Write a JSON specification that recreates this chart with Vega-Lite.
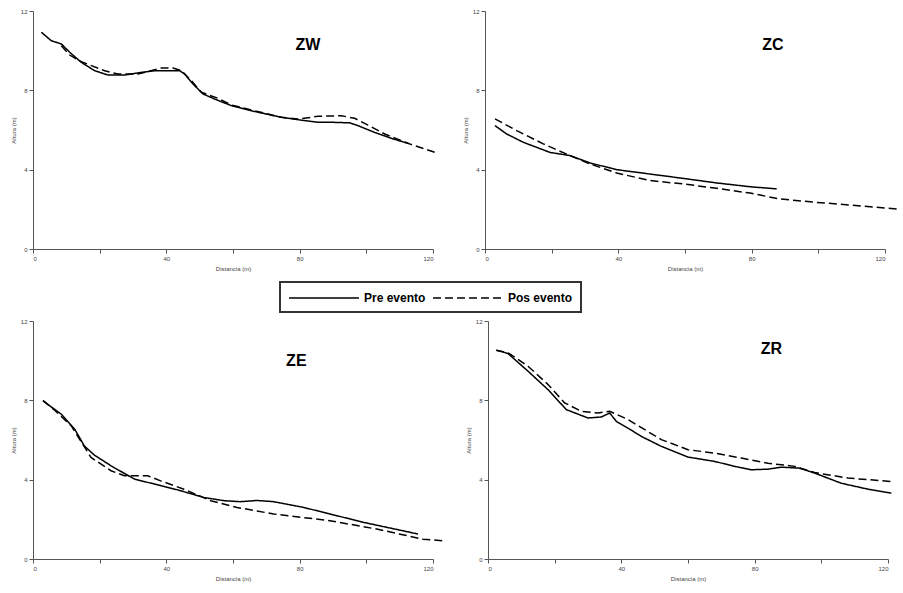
{
  "$schema": "https://vega.github.io/schema/vega-lite/v6.json",
  "background": "white",
  "padding": {"left": 10, "top": 8, "right": 5, "bottom": 5},
  "datasets": {
    "perfiles": [
      {"zona":"ZW","serie":"Pre evento","distancia":2.5,"altura":10.93},
      {"zona":"ZW","serie":"Pre evento","distancia":5.5,"altura":10.5},
      {"zona":"ZW","serie":"Pre evento","distancia":8.5,"altura":10.34},
      {"zona":"ZW","serie":"Pre evento","distancia":11,"altura":9.92},
      {"zona":"ZW","serie":"Pre evento","distancia":14.5,"altura":9.41},
      {"zona":"ZW","serie":"Pre evento","distancia":18.5,"altura":8.99},
      {"zona":"ZW","serie":"Pre evento","distancia":22.5,"altura":8.77},
      {"zona":"ZW","serie":"Pre evento","distancia":27.5,"altura":8.77},
      {"zona":"ZW","serie":"Pre evento","distancia":31.5,"altura":8.88},
      {"zona":"ZW","serie":"Pre evento","distancia":36.5,"altura":8.99},
      {"zona":"ZW","serie":"Pre evento","distancia":39.5,"altura":8.99},
      {"zona":"ZW","serie":"Pre evento","distancia":44,"altura":8.99},
      {"zona":"ZW","serie":"Pre evento","distancia":45.5,"altura":8.82},
      {"zona":"ZW","serie":"Pre evento","distancia":48,"altura":8.32},
      {"zona":"ZW","serie":"Pre evento","distancia":51,"altura":7.82},
      {"zona":"ZW","serie":"Pre evento","distancia":54.5,"altura":7.56},
      {"zona":"ZW","serie":"Pre evento","distancia":59.5,"altura":7.23},
      {"zona":"ZW","serie":"Pre evento","distancia":65.5,"altura":6.97},
      {"zona":"ZW","serie":"Pre evento","distancia":74.5,"altura":6.64},
      {"zona":"ZW","serie":"Pre evento","distancia":79.5,"altura":6.52},
      {"zona":"ZW","serie":"Pre evento","distancia":85.5,"altura":6.39},
      {"zona":"ZW","serie":"Pre evento","distancia":89.5,"altura":6.39},
      {"zona":"ZW","serie":"Pre evento","distancia":95,"altura":6.36},
      {"zona":"ZW","serie":"Pre evento","distancia":97.5,"altura":6.22},
      {"zona":"ZW","serie":"Pre evento","distancia":102.5,"altura":5.88},
      {"zona":"ZW","serie":"Pre evento","distancia":107.5,"altura":5.58},
      {"zona":"ZW","serie":"Pre evento","distancia":113,"altura":5.3},
      {"zona":"ZW","serie":"Pos evento","distancia":8.5,"altura":10.25},
      {"zona":"ZW","serie":"Pos evento","distancia":11,"altura":9.78},
      {"zona":"ZW","serie":"Pos evento","distancia":14.5,"altura":9.44},
      {"zona":"ZW","serie":"Pos evento","distancia":21.5,"altura":8.99},
      {"zona":"ZW","serie":"Pos evento","distancia":25.5,"altura":8.82},
      {"zona":"ZW","serie":"Pos evento","distancia":31.5,"altura":8.82},
      {"zona":"ZW","serie":"Pos evento","distancia":38.5,"altura":9.13},
      {"zona":"ZW","serie":"Pos evento","distancia":42,"altura":9.13},
      {"zona":"ZW","serie":"Pos evento","distancia":44.5,"altura":8.99},
      {"zona":"ZW","serie":"Pos evento","distancia":47.5,"altura":8.49},
      {"zona":"ZW","serie":"Pos evento","distancia":50.5,"altura":7.9},
      {"zona":"ZW","serie":"Pos evento","distancia":55.5,"altura":7.6},
      {"zona":"ZW","serie":"Pos evento","distancia":59.5,"altura":7.26},
      {"zona":"ZW","serie":"Pos evento","distancia":74.5,"altura":6.64},
      {"zona":"ZW","serie":"Pos evento","distancia":79.5,"altura":6.55},
      {"zona":"ZW","serie":"Pos evento","distancia":85.5,"altura":6.69},
      {"zona":"ZW","serie":"Pos evento","distancia":92.5,"altura":6.72},
      {"zona":"ZW","serie":"Pos evento","distancia":96.5,"altura":6.59},
      {"zona":"ZW","serie":"Pos evento","distancia":100.5,"altura":6.25},
      {"zona":"ZW","serie":"Pos evento","distancia":105.5,"altura":5.8},
      {"zona":"ZW","serie":"Pos evento","distancia":113,"altura":5.3},
      {"zona":"ZW","serie":"Pos evento","distancia":120.5,"altura":4.88},
      {"zona":"ZC","serie":"Pre evento","distancia":3,"altura":6.22},
      {"zona":"ZC","serie":"Pre evento","distancia":6.5,"altura":5.8},
      {"zona":"ZC","serie":"Pre evento","distancia":11.5,"altura":5.38},
      {"zona":"ZC","serie":"Pre evento","distancia":19.5,"altura":4.87},
      {"zona":"ZC","serie":"Pre evento","distancia":25.5,"altura":4.71},
      {"zona":"ZC","serie":"Pre evento","distancia":31.5,"altura":4.34},
      {"zona":"ZC","serie":"Pre evento","distancia":39.5,"altura":4.0},
      {"zona":"ZC","serie":"Pre evento","distancia":49.5,"altura":3.78},
      {"zona":"ZC","serie":"Pre evento","distancia":59.5,"altura":3.56},
      {"zona":"ZC","serie":"Pre evento","distancia":69.5,"altura":3.33},
      {"zona":"ZC","serie":"Pre evento","distancia":79.5,"altura":3.14},
      {"zona":"ZC","serie":"Pre evento","distancia":87.5,"altura":3.03},
      {"zona":"ZC","serie":"Pos evento","distancia":3,"altura":6.56},
      {"zona":"ZC","serie":"Pos evento","distancia":9.5,"altura":5.97},
      {"zona":"ZC","serie":"Pos evento","distancia":17.5,"altura":5.3},
      {"zona":"ZC","serie":"Pos evento","distancia":25.5,"altura":4.71},
      {"zona":"ZC","serie":"Pos evento","distancia":31.5,"altura":4.29},
      {"zona":"ZC","serie":"Pos evento","distancia":39.5,"altura":3.83},
      {"zona":"ZC","serie":"Pos evento","distancia":49.5,"altura":3.45},
      {"zona":"ZC","serie":"Pos evento","distancia":59.5,"altura":3.28},
      {"zona":"ZC","serie":"Pos evento","distancia":69.5,"altura":3.06},
      {"zona":"ZC","serie":"Pos evento","distancia":79.5,"altura":2.82},
      {"zona":"ZC","serie":"Pos evento","distancia":88.5,"altura":2.52},
      {"zona":"ZC","serie":"Pos evento","distancia":99.5,"altura":2.35},
      {"zona":"ZC","serie":"Pos evento","distancia":109.5,"altura":2.22},
      {"zona":"ZC","serie":"Pos evento","distancia":123.5,"altura":2.02},
      {"zona":"ZE","serie":"Pre evento","distancia":3,"altura":7.97},
      {"zona":"ZE","serie":"Pre evento","distancia":8.5,"altura":7.3},
      {"zona":"ZE","serie":"Pre evento","distancia":12.5,"altura":6.55},
      {"zona":"ZE","serie":"Pre evento","distancia":15.4,"altura":5.7},
      {"zona":"ZE","serie":"Pre evento","distancia":18.4,"altura":5.24},
      {"zona":"ZE","serie":"Pre evento","distancia":23.4,"altura":4.7},
      {"zona":"ZE","serie":"Pre evento","distancia":30.4,"altura":4.03},
      {"zona":"ZE","serie":"Pre evento","distancia":36.4,"altura":3.78},
      {"zona":"ZE","serie":"Pre evento","distancia":43.3,"altura":3.49},
      {"zona":"ZE","serie":"Pre evento","distancia":51.3,"altura":3.1},
      {"zona":"ZE","serie":"Pre evento","distancia":57.3,"altura":2.94},
      {"zona":"ZE","serie":"Pre evento","distancia":62.2,"altura":2.89},
      {"zona":"ZE","serie":"Pre evento","distancia":67.2,"altura":2.95},
      {"zona":"ZE","serie":"Pre evento","distancia":72.2,"altura":2.89},
      {"zona":"ZE","serie":"Pre evento","distancia":81.2,"altura":2.6},
      {"zona":"ZE","serie":"Pre evento","distancia":89.1,"altura":2.27},
      {"zona":"ZE","serie":"Pre evento","distancia":99.1,"altura":1.85},
      {"zona":"ZE","serie":"Pre evento","distancia":115.5,"altura":1.26},
      {"zona":"ZE","serie":"Pos evento","distancia":3,"altura":8.0},
      {"zona":"ZE","serie":"Pos evento","distancia":6.5,"altura":7.5},
      {"zona":"ZE","serie":"Pos evento","distancia":11.5,"altura":6.71},
      {"zona":"ZE","serie":"Pos evento","distancia":17.4,"altura":5.12},
      {"zona":"ZE","serie":"Pos evento","distancia":23.4,"altura":4.45},
      {"zona":"ZE","serie":"Pos evento","distancia":27.4,"altura":4.2},
      {"zona":"ZE","serie":"Pos evento","distancia":34.4,"altura":4.2},
      {"zona":"ZE","serie":"Pos evento","distancia":38.3,"altura":3.94},
      {"zona":"ZE","serie":"Pos evento","distancia":45.3,"altura":3.52},
      {"zona":"ZE","serie":"Pos evento","distancia":53.3,"altura":2.94},
      {"zona":"ZE","serie":"Pos evento","distancia":61.2,"altura":2.6},
      {"zona":"ZE","serie":"Pos evento","distancia":72.2,"altura":2.27},
      {"zona":"ZE","serie":"Pos evento","distancia":89.1,"altura":1.93},
      {"zona":"ZE","serie":"Pos evento","distancia":103.1,"altura":1.51},
      {"zona":"ZE","serie":"Pos evento","distancia":117,"altura":1.0},
      {"zona":"ZE","serie":"Pos evento","distancia":123,"altura":0.92},
      {"zona":"ZR","serie":"Pre evento","distancia":2.5,"altura":10.53},
      {"zona":"ZR","serie":"Pre evento","distancia":6,"altura":10.36},
      {"zona":"ZR","serie":"Pre evento","distancia":12,"altura":9.47},
      {"zona":"ZR","serie":"Pre evento","distancia":18,"altura":8.54},
      {"zona":"ZR","serie":"Pre evento","distancia":23.5,"altura":7.53},
      {"zona":"ZR","serie":"Pre evento","distancia":30,"altura":7.11},
      {"zona":"ZR","serie":"Pre evento","distancia":34,"altura":7.16},
      {"zona":"ZR","serie":"Pre evento","distancia":36.5,"altura":7.36},
      {"zona":"ZR","serie":"Pre evento","distancia":38.5,"altura":6.94},
      {"zona":"ZR","serie":"Pre evento","distancia":42,"altura":6.6},
      {"zona":"ZR","serie":"Pre evento","distancia":46,"altura":6.18},
      {"zona":"ZR","serie":"Pre evento","distancia":52,"altura":5.68},
      {"zona":"ZR","serie":"Pre evento","distancia":60,"altura":5.14},
      {"zona":"ZR","serie":"Pre evento","distancia":68,"altura":4.92},
      {"zona":"ZR","serie":"Pre evento","distancia":74,"altura":4.67},
      {"zona":"ZR","serie":"Pre evento","distancia":79,"altura":4.5},
      {"zona":"ZR","serie":"Pre evento","distancia":84,"altura":4.53},
      {"zona":"ZR","serie":"Pre evento","distancia":88,"altura":4.63},
      {"zona":"ZR","serie":"Pre evento","distancia":93.5,"altura":4.58},
      {"zona":"ZR","serie":"Pre evento","distancia":98,"altura":4.33},
      {"zona":"ZR","serie":"Pre evento","distancia":106,"altura":3.82},
      {"zona":"ZR","serie":"Pre evento","distancia":114,"altura":3.52},
      {"zona":"ZR","serie":"Pre evento","distancia":121,"altura":3.32},
      {"zona":"ZR","serie":"Pos evento","distancia":2.5,"altura":10.53},
      {"zona":"ZR","serie":"Pos evento","distancia":6,"altura":10.4},
      {"zona":"ZR","serie":"Pos evento","distancia":12,"altura":9.72},
      {"zona":"ZR","serie":"Pos evento","distancia":18,"altura":8.8},
      {"zona":"ZR","serie":"Pos evento","distancia":23,"altura":7.87},
      {"zona":"ZR","serie":"Pos evento","distancia":28,"altura":7.45},
      {"zona":"ZR","serie":"Pos evento","distancia":33,"altura":7.36},
      {"zona":"ZR","serie":"Pos evento","distancia":36.5,"altura":7.45},
      {"zona":"ZR","serie":"Pos evento","distancia":42,"altura":7.03},
      {"zona":"ZR","serie":"Pos evento","distancia":52,"altura":6.02},
      {"zona":"ZR","serie":"Pos evento","distancia":60,"altura":5.51},
      {"zona":"ZR","serie":"Pos evento","distancia":68,"altura":5.34},
      {"zona":"ZR","serie":"Pos evento","distancia":76,"altura":5.09},
      {"zona":"ZR","serie":"Pos evento","distancia":84,"altura":4.83},
      {"zona":"ZR","serie":"Pos evento","distancia":92,"altura":4.67},
      {"zona":"ZR","serie":"Pos evento","distancia":98,"altura":4.36},
      {"zona":"ZR","serie":"Pos evento","distancia":108,"altura":4.08},
      {"zona":"ZR","serie":"Pos evento","distancia":121,"altura":3.91}
    ]
  },
  "config": {
    "view": {"stroke": null},
    "font": "Liberation Sans",
    "axis": {
      "grid": false,
      "domainColor": "#555",
      "tickColor": "#555",
      "labelColor": "#444",
      "labelFontSize": 6,
      "titleFontSize": 6,
      "titleFontWeight": "normal",
      "titleColor": "#444",
      "tickSize": 4,
      "labelPadding": 2,
      "titlePadding": 4
    },
    "legend": {
      "orient": "none",
      "legendX": 247,
      "legendY": 271,
      "direction": "horizontal",
      "strokeColor": "#333",
      "strokeWidth": 2,
      "padding": 8,
      "symbolType": "M-1,0H9",
      "symbolSize": 196,
      "symbolStrokeColor": "black",
      "symbolStrokeWidth": 1.5,
      "labelFontSize": 12,
      "labelFontWeight": "bold",
      "labelColor": "black",
      "columnPadding": 4,
      "labelOffset": 60
    }
  },
  "data": {"name": "perfiles"},
  "spacing": 47,
  "vconcat": [
    {
      "spacing": 24,
      "hconcat": [
        {
          "width": 400, "height": 238,
          "layer": [
            {
              "transform": [{"filter": "datum.zona == 'ZW'"}],
              "mark": {"type": "line", "color": "black", "strokeWidth": 1.5, "clip": false},
              "encoding": {
                "x": {"field": "distancia", "type": "quantitative", "scale": {"domain": [0, 120], "nice": false}, "axis": {"title": "Distancia (m)", "values": [0,20,40,60,80,100,120], "labelExpr": "datum.value % 40 == 0 ? datum.label : ''"}},
                "y": {"field": "altura", "type": "quantitative", "scale": {"domain": [0, 12], "nice": false}, "axis": {"title": "Altura (m)", "values": [0,2,4,6,8,10,12], "labelExpr": "datum.value % 4 == 0 ? datum.label : ''"}},
                "strokeDash": {"field": "serie", "type": "nominal", "scale": {"domain": ["Pre evento", "Pos evento"], "range": [[1, 0], [8, 4]]}, "legend": {"title": null}}
              }
            },
            {
              "data": {"values": [{"zona": "ZW"}]},
              "mark": {"type": "text", "fontSize": 16, "fontWeight": "bold", "color": "black"},
              "encoding": {"x": {"datum": 82.5}, "y": {"datum": 10.3}, "text": {"field": "zona"}}
            }
          ]
        },
        {
          "width": 400, "height": 238,
          "layer": [
            {
              "transform": [{"filter": "datum.zona == 'ZC'"}],
              "mark": {"type": "line", "color": "black", "strokeWidth": 1.5, "clip": false},
              "encoding": {
                "x": {"field": "distancia", "type": "quantitative", "scale": {"domain": [0, 120], "nice": false}, "axis": {"title": "Distancia (m)", "values": [0,20,40,60,80,100,120], "labelExpr": "datum.value % 40 == 0 ? datum.label : ''"}},
                "y": {"field": "altura", "type": "quantitative", "scale": {"domain": [0, 12], "nice": false}, "axis": {"title": "Altura (m)", "values": [0,2,4,6,8,10,12], "labelExpr": "datum.value % 4 == 0 ? datum.label : ''"}},
                "strokeDash": {"field": "serie", "type": "nominal", "scale": {"domain": ["Pre evento", "Pos evento"], "range": [[1, 0], [8, 4]]}, "legend": {"title": null}}
              }
            },
            {
              "data": {"values": [{"zona": "ZC"}]},
              "mark": {"type": "text", "fontSize": 16, "fontWeight": "bold", "color": "black"},
              "encoding": {"x": {"datum": 86.4}, "y": {"datum": 10.3}, "text": {"field": "zona"}}
            }
          ]
        }
      ]
    },
    {
      "spacing": 19,
      "hconcat": [
        {
          "width": 400, "height": 238,
          "layer": [
            {
              "transform": [{"filter": "datum.zona == 'ZE'"}],
              "mark": {"type": "line", "color": "black", "strokeWidth": 1.5, "clip": false},
              "encoding": {
                "x": {"field": "distancia", "type": "quantitative", "scale": {"domain": [0, 120], "nice": false}, "axis": {"title": "Distancia (m)", "values": [0,20,40,60,80,100,120], "labelExpr": "datum.value % 40 == 0 ? datum.label : ''"}},
                "y": {"field": "altura", "type": "quantitative", "scale": {"domain": [0, 12], "nice": false}, "axis": {"title": "Altura (m)", "values": [0,2,4,6,8,10,12], "labelExpr": "datum.value % 4 == 0 ? datum.label : ''"}},
                "strokeDash": {"field": "serie", "type": "nominal", "scale": {"domain": ["Pre evento", "Pos evento"], "range": [[1, 0], [8, 4]]}, "legend": {"title": null}}
              }
            },
            {
              "data": {"values": [{"zona": "ZE"}]},
              "mark": {"type": "text", "fontSize": 16, "fontWeight": "bold", "color": "black"},
              "encoding": {"x": {"datum": 79}, "y": {"datum": 10.0}, "text": {"field": "zona"}}
            }
          ]
        },
        {
          "width": 400, "height": 238,
          "layer": [
            {
              "transform": [{"filter": "datum.zona == 'ZR'"}],
              "mark": {"type": "line", "color": "black", "strokeWidth": 1.5, "clip": false},
              "encoding": {
                "x": {"field": "distancia", "type": "quantitative", "scale": {"domain": [0, 120], "nice": false}, "axis": {"title": "Distancia (m)", "values": [0,20,40,60,80,100,120], "labelExpr": "datum.value % 40 == 0 ? datum.label : ''"}},
                "y": {"field": "altura", "type": "quantitative", "scale": {"domain": [0, 12], "nice": false}, "axis": {"title": "Altura (m)", "values": [0,2,4,6,8,10,12], "labelExpr": "datum.value % 4 == 0 ? datum.label : ''"}},
                "strokeDash": {"field": "serie", "type": "nominal", "scale": {"domain": ["Pre evento", "Pos evento"], "range": [[1, 0], [8, 4]]}, "legend": {"title": null}}
              }
            },
            {
              "data": {"values": [{"zona": "ZR"}]},
              "mark": {"type": "text", "fontSize": 16, "fontWeight": "bold", "color": "black"},
              "encoding": {"x": {"datum": 85}, "y": {"datum": 10.6}, "text": {"field": "zona"}}
            }
          ]
        }
      ]
    }
  ]
}
